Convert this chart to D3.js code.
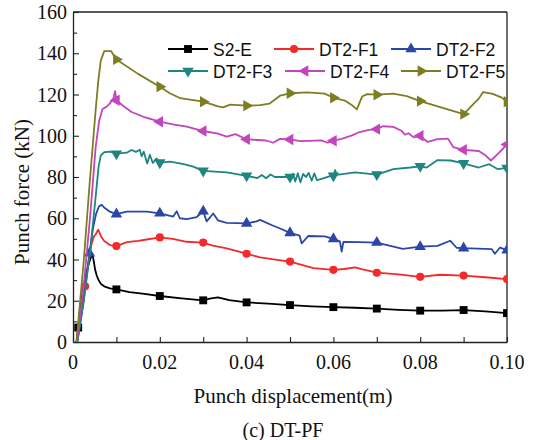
<!DOCTYPE html>
<html>
<head>
<meta charset="utf-8">
<script src="https://cdnjs.cloudflare.com/ajax/libs/d3/7.8.5/d3.min.js"></script>
<style>
  html, body { margin: 0; padding: 0; background: #fff; }
  svg { display: block; }
</style>
</head>
<body>
<svg id="chart" width="536" height="440"></svg>
<script>
// Punch force vs. punch displacement, [displacement (m), force (kN)]
const s2e = [[0.0008,0],[0.0012,7],[0.0016,16],[0.0022,24],[0.0028,31],[0.0035,37],[0.0041,41],[0.0045,42.3],[0.0048,39],[0.0051,35],[0.0055,32],[0.0059,30],[0.0065,28],[0.0072,27],[0.0085,26],[0.01,25.5],[0.013,24.2],[0.016,23.5],[0.02,22.3],[0.025,21.2],[0.03,20.2],[0.0315,21],[0.0334,21.6],[0.036,20.3],[0.04,19.2],[0.045,18.6],[0.05,17.9],[0.055,17.3],[0.06,16.9],[0.065,16.6],[0.07,16.2],[0.075,15.6],[0.08,15.2],[0.085,15.2],[0.09,15.5],[0.095,14.8],[0.1,14]];
const dt2f1 = [[0.0009,0],[0.0018,12],[0.0028,27],[0.0035,38],[0.0042,47],[0.0048,51],[0.0053,52.5],[0.0058,54.5],[0.0061,53],[0.0065,51],[0.0072,49],[0.0085,47],[0.01,46.5],[0.0124,48.4],[0.015,49],[0.017,49.7],[0.02,50.7],[0.023,50],[0.0262,48.6],[0.03,48.2],[0.032,46.8],[0.0354,45.4],[0.04,42.8],[0.0431,41],[0.047,39.8],[0.05,39],[0.0554,35.8],[0.06,35],[0.0625,35.4],[0.065,36.2],[0.0665,35.3],[0.07,33.6],[0.075,32.8],[0.08,31.6],[0.0845,32.6],[0.09,32.2],[0.095,31.4],[0.1,30.5]];
const dt2f2 = [[0.001,0],[0.0025,21],[0.0038,43],[0.0046,55],[0.0053,62],[0.006,65.8],[0.0066,66.5],[0.0074,64.8],[0.0085,63.2],[0.01,62],[0.0124,63.2],[0.017,63.2],[0.02,62.4],[0.0231,60.8],[0.0239,63.4],[0.0246,60],[0.0262,59.6],[0.0285,60.6],[0.03,63.4],[0.0308,58.5],[0.0323,62.3],[0.0334,59],[0.0354,57.8],[0.04,57.5],[0.0423,58.5],[0.0431,59.2],[0.046,56.5],[0.048,54.8],[0.05,52.9],[0.0522,51.6],[0.0527,47.8],[0.0542,51.4],[0.058,51.2],[0.06,50],[0.0615,48.8],[0.0619,43.8],[0.0623,48.5],[0.066,48.4],[0.07,48.2],[0.076,45.2],[0.08,46.2],[0.084,46.6],[0.0869,49.1],[0.0884,45.7],[0.09,45.5],[0.0965,45],[0.0972,42.8],[0.0984,45.8],[0.1,44.5]];
const dt2f3 = [[0.001,0],[0.0025,20],[0.004,45],[0.0052,70],[0.0059,85],[0.0064,90.5],[0.0072,92],[0.0085,92.3],[0.01,91.3],[0.0124,91.8],[0.0135,93.1],[0.0145,92.2],[0.0154,93.2],[0.0158,90],[0.0163,92.3],[0.0171,86.6],[0.0177,90.8],[0.0184,86.8],[0.0192,89],[0.02,87],[0.0224,87.5],[0.0255,86.2],[0.0277,85],[0.03,83],[0.0354,82.2],[0.04,80.6],[0.0425,79.5],[0.0435,81],[0.0445,79.4],[0.0455,81.2],[0.0465,80],[0.05,80],[0.0507,81.6],[0.0512,77.8],[0.0518,81.8],[0.0524,77.4],[0.053,81.5],[0.0537,80],[0.0543,82],[0.055,78.2],[0.0556,81.8],[0.0562,78.5],[0.0575,79.2],[0.0592,80.4],[0.06,80.6],[0.0604,83.4],[0.0608,81],[0.065,82.2],[0.07,81.2],[0.0738,83.8],[0.0777,84.6],[0.08,85.2],[0.0815,84.6],[0.084,88.2],[0.087,88],[0.09,86.6],[0.0935,84.6],[0.0959,86.2],[0.0979,83.8],[0.1,84.4]];
const dt2f4 = [[0.0009,0],[0.0025,28],[0.004,62],[0.0052,94],[0.006,107],[0.0068,113],[0.0077,114],[0.0085,115.7],[0.0093,118],[0.0097,121.6],[0.01,117.2],[0.0116,114.4],[0.0135,111.5],[0.0162,109.2],[0.02,106.8],[0.023,105.5],[0.0262,104.4],[0.03,102.3],[0.0334,101],[0.0354,99.6],[0.0374,100.8],[0.04,98.3],[0.0445,97.7],[0.0461,96.6],[0.0477,98.5],[0.05,98.2],[0.0524,97.4],[0.0572,97.8],[0.0587,96.6],[0.06,97.6],[0.0619,98.5],[0.0643,100.2],[0.0658,101.6],[0.0682,102.8],[0.07,103.2],[0.0714,104.6],[0.0738,104.3],[0.0757,102.4],[0.0765,100.5],[0.0773,101.2],[0.0785,99.2],[0.08,100],[0.081,98.2],[0.0817,97],[0.084,98.4],[0.0864,98.6],[0.0876,94.5],[0.09,93.2],[0.0935,92.6],[0.0951,90.4],[0.0963,88],[0.0979,91.2],[0.1,95.8]];
const dt2f5 = [[0.0008,0],[0.0025,40],[0.0038,76],[0.0052,112],[0.0058,126],[0.0064,136.5],[0.0072,141],[0.0088,141],[0.01,137],[0.015,130],[0.02,123.8],[0.0224,120.5],[0.0239,119],[0.0247,118.2],[0.03,116.5],[0.0334,114.2],[0.0346,113.8],[0.0362,115.1],[0.04,114.6],[0.0431,114.8],[0.0453,115.6],[0.0477,119.4],[0.05,120.6],[0.054,121],[0.058,120.4],[0.06,118.4],[0.0627,117],[0.0643,114.8],[0.0654,112.8],[0.0666,119],[0.0678,120.2],[0.07,119.9],[0.0738,120.4],[0.0769,119.2],[0.08,116.8],[0.0848,113.8],[0.09,110.5],[0.0919,114.6],[0.0935,118],[0.0945,121.2],[0.0967,120.3],[0.0987,118.6],[0.1,116.5]];

const seriesNames = ["S2-E", "DT2-F1", "DT2-F2", "DT2-F3", "DT2-F4", "DT2-F5"];
const seriesData = [s2e, dt2f1, dt2f2, dt2f3, dt2f4, dt2f5];
const seriesColors = ["#000000", "#f42a2a", "#2c46a8", "#1f8580", "#c245bd", "#7d7d22"];
const seriesSymbols = ["square", "circle", "up", "down", "left", "right"];
// displacements carrying a marker (regular spacing plus one on the loading branch)
const markDisp = [0.01, 0.02, 0.03, 0.04, 0.05, 0.06, 0.07, 0.08, 0.09, 0.10];
const extraMarks = [[0.0012], [0.0028], [0.0038], [], [], []];

const xTicks = [0, 0.02, 0.04, 0.06, 0.08, 0.10];
const xTickLabels = ["0", "0.02", "0.04", "0.06", "0.08", "0.10"];
const yTicks = [0, 20, 40, 60, 80, 100, 120, 140, 160];

const svg = d3.select("#chart");
const pLeft = 73, pRight = 507, pTop = 12, pBottom = 342;

const x = d3.scaleLinear().domain([0, 0.10]).range([pLeft, pRight]);
const y = d3.scaleLinear().domain([0, 160]).range([pBottom, pTop]);

svg.append("defs").append("clipPath").attr("id", "plotClip")
  .append("rect").attr("x", pLeft).attr("y", pTop).attr("width", pRight - pLeft).attr("height", pBottom - pTop);

const serif = "'Liberation Serif', 'Times New Roman', serif";
const sans = "'Liberation Sans', Arial, sans-serif";

// axes with inward ticks
const xAxis = d3.axisBottom(x).tickValues(d3.range(0, 0.1001, 0.01)).tickSizeInner(-5).tickSizeOuter(0).tickFormat("");
const gx = svg.append("g").attr("transform", `translate(0,${pBottom})`).call(xAxis);
const yAxis = d3.axisLeft(y).tickValues(d3.range(0, 161, 10)).tickSizeInner(-5).tickSizeOuter(0).tickFormat("");
const gy = svg.append("g").attr("transform", `translate(${pLeft},0)`).call(yAxis);
gy.selectAll(".tick line").attr("x2", d => (d % 20 === 0 ? 6 : 4));
[gx, gy].forEach(g => {
  g.select(".domain").attr("stroke", "#222").attr("stroke-width", 1.3);
  g.selectAll(".tick line").attr("stroke", "#222").attr("stroke-width", 1.1);
});

// frame top and right
svg.append("line").attr("x1", pLeft).attr("x2", pRight).attr("y1", pTop).attr("y2", pTop)
  .attr("stroke", "#222").attr("stroke-width", 1.3);
svg.append("line").attr("x1", pRight).attr("x2", pRight).attr("y1", pTop).attr("y2", pBottom)
  .attr("stroke", "#222").attr("stroke-width", 1.3);

// tick labels
svg.append("g").selectAll("text").data(xTicks).join("text")
  .attr("x", d => x(d)).attr("y", 369)
  .attr("text-anchor", "middle").attr("font-family", serif).attr("font-size", 20).attr("fill", "#111")
  .text((d, i) => xTickLabels[i]);
svg.append("g").selectAll("text").data(yTicks).join("text")
  .attr("x", 67).attr("y", d => y(d) + 7)
  .attr("text-anchor", "end").attr("font-family", serif).attr("font-size", 20).attr("fill", "#111")
  .text(d => d);

// axis titles and caption
svg.append("text").attr("x", 293).attr("y", 403).attr("text-anchor", "middle")
  .attr("font-family", serif).attr("font-size", 21).attr("fill", "#111").text("Punch displacement(m)");
svg.append("text").attr("transform", "translate(29,192) rotate(-90)").attr("text-anchor", "middle")
  .attr("font-family", serif).attr("font-size", 21).attr("fill", "#111").text("Punch force (kN)");
svg.append("text").attr("x", 283).attr("y", 437).attr("text-anchor", "middle")
  .attr("font-family", serif).attr("font-size", 20).attr("fill", "#111").text("(c) DT-PF");

function symbolPath(kind) {
  if (kind === "square") return d3.symbol(d3.symbolSquare, 62)();
  if (kind === "circle") return d3.symbol(d3.symbolCircle, 52)();
  return d3.symbol(d3.symbolTriangle, 56)();
}
function symbolRotate(kind) {
  return { up: 0, down: 180, left: -90, right: 90 }[kind] || 0;
}

const line = d3.line().x(d => x(d[0])).y(d => y(d[1]));
const plot = svg.append("g").attr("clip-path", "url(#plotClip)");

seriesData.forEach((data, i) => {
  const g = plot.append("g");
  g.append("path").datum(data).attr("d", line)
    .attr("fill", "none").attr("stroke", seriesColors[i]).attr("stroke-width", 1.8)
    .attr("stroke-linejoin", "round");
  const marks = markDisp.concat(extraMarks[i]);
  const pts = data.filter(p => marks.some(m => Math.abs(m - p[0]) < 1e-9));
  g.selectAll("path.mk").data(pts).join("path").attr("class", "mk")
    .attr("d", symbolPath(seriesSymbols[i]))
    .attr("transform", p => `translate(${x(p[0])},${y(p[1])}) rotate(${symbolRotate(seriesSymbols[i])})`)
    .attr("fill", seriesColors[i]);
});

// legend
const legendRows = [
  { y: 49, items: [[0, 168], [1, 274], [2, 391]] },
  { y: 71, items: [[3, 168], [4, 285], [5, 401]] }
];
const lg = svg.append("g");
legendRows.forEach(row => {
  row.items.forEach(([i, lx]) => {
    lg.append("line").attr("x1", lx).attr("x2", lx + 40).attr("y1", row.y).attr("y2", row.y)
      .attr("stroke", seriesColors[i]).attr("stroke-width", 1.8);
    lg.append("path").attr("d", symbolPath(seriesSymbols[i]))
      .attr("transform", `translate(${lx + 20},${row.y}) rotate(${symbolRotate(seriesSymbols[i])})`)
      .attr("fill", seriesColors[i]);
    lg.append("text").attr("x", lx + 45).attr("y", row.y + 6.5)
      .attr("font-family", sans).attr("font-size", 17.5).attr("fill", "#111")
      .text(seriesNames[i]);
  });
});
</script>
</body>
</html>
